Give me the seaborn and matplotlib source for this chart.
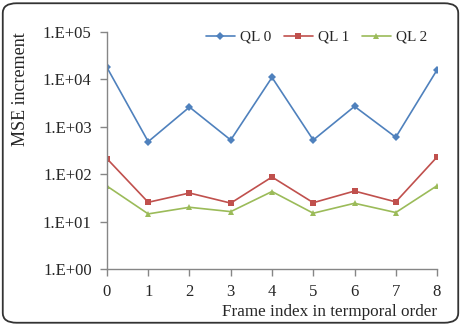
import numpy as np
import pandas as pd
import matplotlib
matplotlib.use('Agg')
import matplotlib.pyplot as plt
from matplotlib.patches import FancyBboxPatch
import seaborn as sns

frames = [0, 1, 2, 3, 4, 5, 6, 7, 8]
ql0 = [17800, 485, 2600, 525, 11000, 525, 2690, 600, 15800]
ql1 = [212, 25.5, 40, 24.5, 87, 25, 44, 26, 230]
ql2 = [56, 14.5, 20, 16.2, 43, 15, 24.3, 15.5, 57]
series_names = ['QL 0', 'QL 1', 'QL 2']
y_ticks = [1, 10, 100, 1000, 10000, 100000]
y_tick_labels = ['1.E+00', '1.E+01', '1.E+02', '1.E+03', '1.E+04', '1.E+05']

df = pd.DataFrame({'frame': frames * 3,
                   'mse': ql0 + ql1 + ql2,
                   'ql': [s for s in series_names for _ in frames]})

sns.set_style('white')
plt.rcParams['font.family'] = ['Liberation Serif', 'DejaVu Serif']

fig = plt.figure(figsize=(4.61, 3.26), dpi=100)
ax = fig.add_axes([0.232, 0.175, 0.716, 0.727])

palette = {'QL 0': '#4F81BD', 'QL 1': '#C0504D', 'QL 2': '#9BBB59'}
markers = {'QL 0': 'D', 'QL 1': 's', 'QL 2': '^'}
sizes = {'QL 0': 4, 'QL 1': 5, 'QL 2': 5}
for name in series_names:
    sub = df[df['ql'] == name]
    sns.lineplot(data=sub, x='frame', y='mse', ax=ax, color=palette[name],
                 marker=markers[name], markersize=sizes[name], markeredgewidth=0,
                 linewidth=1.2, label=name)

ax.set_yscale('log')
ax.set_ylim(1, 100000)
ax.set_xlim(0, 8)
ax.set_yticks(y_ticks)
ax.set_yticklabels(y_tick_labels)
ax.yaxis.set_minor_locator(matplotlib.ticker.NullLocator())
ax.set_xticks(frames)
ax.tick_params(axis='both', labelsize=12, length=5, width=1, color='#868686',
               direction='out')
ax.tick_params(axis='y', left=True, pad=6)
ax.tick_params(axis='x', bottom=True, pad=6)
for side in ['top', 'right']:
    ax.spines[side].set_visible(False)
for side in ['left', 'bottom']:
    ax.spines[side].set_color('#868686')
    ax.spines[side].set_linewidth(1)

ax.set_ylabel('MSE increment', fontsize=13, loc='top')
ax.yaxis.set_label_coords(-0.235, 1.0)
ax.set_xlabel('Frame index in termporal order', fontsize=12.3, loc='right', labelpad=3)

ax.legend(loc='upper right', bbox_to_anchor=(1.012, 1.065), ncol=3, frameon=False,
          fontsize=11, handlelength=1.9, handletextpad=0.35, columnspacing=0.8)

border = FancyBboxPatch((0.006, 0.01), 0.988, 0.98, transform=fig.transFigure,
                        boxstyle='round,pad=0,rounding_size=0.03',
                        facecolor='none', edgecolor='#333333', linewidth=1.3)
fig.patches.append(border)

fig.savefig('out.png', dpi=100)
